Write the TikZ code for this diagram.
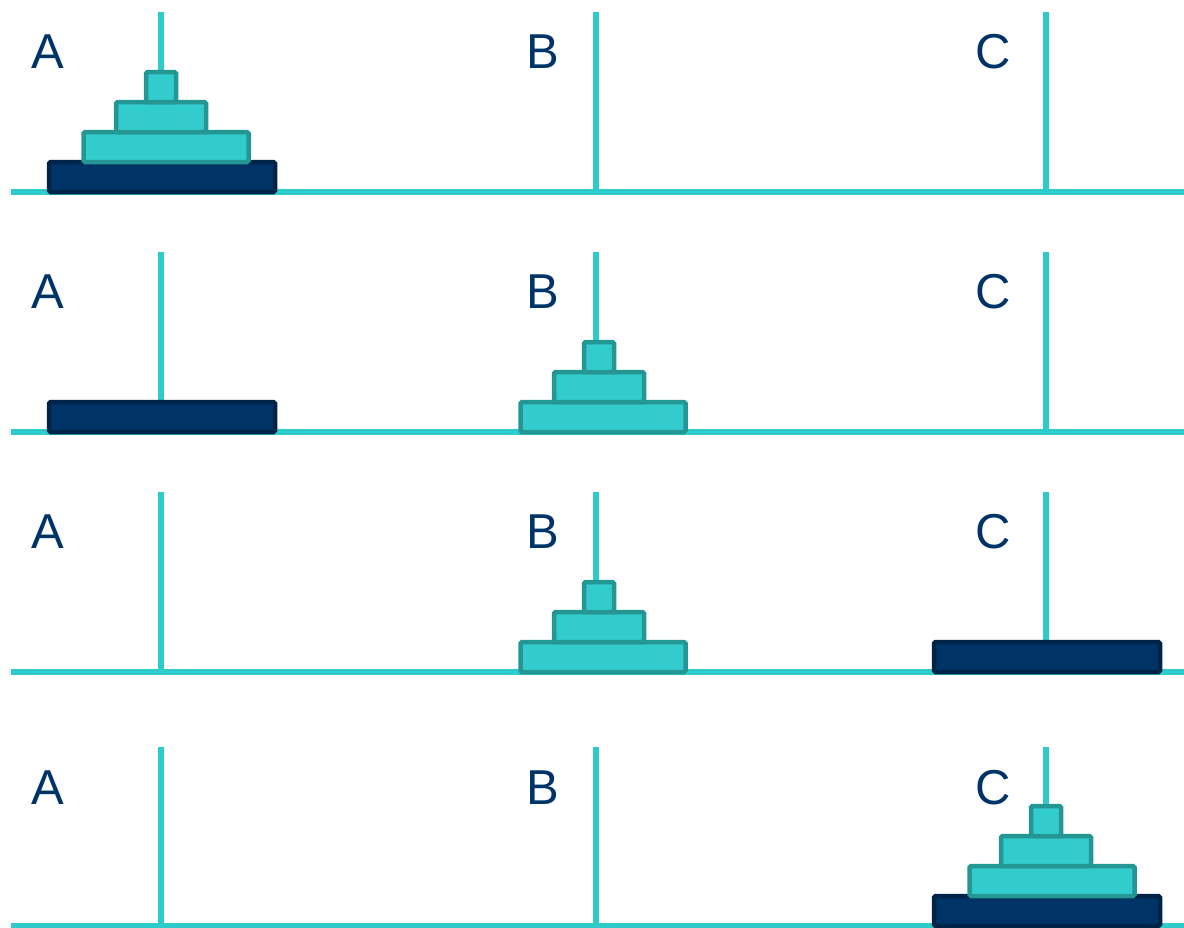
\documentclass[tikz,border=0pt]{standalone}
\usepackage{fontspec}
\setmainfont{Liberation Sans}
\definecolor{pegcol}{RGB}{46,203,203}
\definecolor{diskfill}{RGB}{51,204,204}
\definecolor{diskline}{RGB}{36,150,148}
\definecolor{navyfill}{RGB}{0,51,102}
\definecolor{navyline}{RGB}{0,36,72}
\definecolor{textnavy}{RGB}{0,51,102}

\begin{document}
\begin{tikzpicture}[
    x=1pt, y=-1pt,
    rod/.style={pegcol, line width=6pt},
    disk/.style={draw=diskline, fill=diskfill, line width=4.5pt, rounded corners=1.5pt, minimum height=30pt, inner sep=0pt},
    bigdisk/.style={disk, draw=navyline, fill=navyfill, minimum width=226pt},
    tag/.style={text=textnavy, font=\fontsize{49}{49}\selectfont, anchor=base west, inner sep=0pt},
]
\useasboundingbox (0,0) rectangle (1184,927);
% row 1: all disks on A
\draw[rod] (11,192) -- (1190,192);
\draw[rod] (161,192) -- (161,12);
\draw[rod] (596,192) -- (596,12);
\draw[rod] (1046,192) -- (1046,12);
\node[tag] (A1) at (31,68) {A};
\node[tag] (B1) at (526,68) {B};
\node[tag] (C1) at (975,68) {C};
\node[bigdisk] (n1) at (162,177) {};
\node[disk, minimum width=165pt] (l1) at (166,147) {};
\node[disk, minimum width=90pt] (m1) at (161,117) {};
\node[disk, minimum width=30pt] (s1) at (161,87) {};
% row 2: small stack moved to B
\draw[rod] (11,432) -- (1190,432);
\draw[rod] (161,432) -- (161,252);
\draw[rod] (596,432) -- (596,252);
\draw[rod] (1046,432) -- (1046,252);
\node[tag] (A2) at (31,308) {A};
\node[tag] (B2) at (526,308) {B};
\node[tag] (C2) at (975,308) {C};
\node[bigdisk] (n2) at (162,417) {};
\node[disk, minimum width=165pt] (l2) at (603,417) {};
\node[disk, minimum width=90pt] (m2) at (599,387) {};
\node[disk, minimum width=30pt] (s2) at (599,357) {};
% row 3: largest disk moved to C
\draw[rod] (11,672) -- (1190,672);
\draw[rod] (161,672) -- (161,492);
\draw[rod] (596,672) -- (596,492);
\draw[rod] (1046,672) -- (1046,492);
\node[tag] (A3) at (31,548) {A};
\node[tag] (B3) at (526,548) {B};
\node[tag] (C3) at (975,548) {C};
\node[bigdisk] (n3) at (1047,657) {};
\node[disk, minimum width=165pt] (l3) at (603,657) {};
\node[disk, minimum width=90pt] (m3) at (599,627) {};
\node[disk, minimum width=30pt] (s3) at (599,597) {};
% row 4: all disks on C
\draw[rod] (11,926) -- (1190,926);
\draw[rod] (161,926) -- (161,747);
\draw[rod] (596,926) -- (596,747);
\draw[rod] (1046,926) -- (1046,747);
\node[tag] (A4) at (31,804) {A};
\node[tag] (B4) at (526,804) {B};
\node[tag] (C4) at (975,804) {C};
\node[bigdisk] (n4) at (1047,911) {};
\node[disk, minimum width=165pt] (l4) at (1052,881) {};
\node[disk, minimum width=90pt] (m4) at (1046,851) {};
\node[disk, minimum width=30pt] (s4) at (1046,821) {};
\end{tikzpicture}
\end{document}
